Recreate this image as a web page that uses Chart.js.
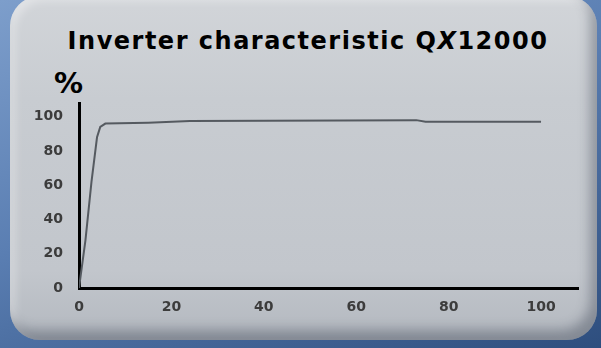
<!DOCTYPE html>
<html>
<head>
<meta charset="utf-8">
<script src="https://cdn.jsdelivr.net/npm/chart.js@4/dist/chart.umd.min.js"></script>
<style>
  html, body { margin: 0; padding: 0; }
  body {
    width: 601px; height: 348px; overflow: hidden; position: relative;
    background: linear-gradient(160deg, #7d9ecb 0%, #5a7eb2 45%, #2e4e7e 100%);
    font-family: "DejaVu Sans", Verdana, sans-serif;
  }
  #panel {
    position: absolute; left: 10px; top: -4px; width: 587px; height: 344px;
    border-radius: 30px;
    background: linear-gradient(180deg, #d2d5d9 0%, #c8ccd1 30%, #c2c6cc 80%, #b3b8bf 100%);
    box-shadow: inset -7px -10px 12px rgba(40,50,65,0.35), inset 5px 5px 8px rgba(255,255,255,0.35);
  }
  #title {
    position: absolute; left: 0; width: 616px; top: 27px; text-align: center;
    font-weight: bold; font-size: 24px; letter-spacing: 1.5px; color: #000; white-space: nowrap;
  }
  #unit {
    position: absolute; left: 54px; top: 66px; font-weight: bold; font-size: 29px; color: #000;
  }
  #wrap { position: absolute; left: 0; top: 0; width: 601px; height: 348px; }
</style>
</head>
<body>
<div id="panel"></div>
<div id="title">Inverter characteristic Q<i>X</i>12000</div>
<div id="unit">%</div>
<div id="wrap"><canvas id="chart"></canvas></div>
<script>
// load in % of rated power vs efficiency in %
const loadPct = [0, 1.4, 2.7, 3.9, 4.6, 5.7, 15, 24, 73, 75, 100];
const efficiency = [0, 28, 62, 88, 94, 96, 96.5, 97.5, 98, 97, 97];
const tickValues = [0, 20, 40, 60, 80, 100];

const tickFont = { family: 'DejaVu Sans', size: 14, weight: 'bold' };

function fixedTicks(scale) {
    scale.ticks = tickValues.map(v => ({ value: v }));
}

new Chart(document.getElementById('chart').getContext('2d'), {
    type: 'scatter',
    data: {
        datasets: [{
            data: loadPct.map((x, i) => ({ x: x, y: efficiency[i] })),
            showLine: true,
            borderColor: '#555a60',
            borderWidth: 2,
            pointRadius: 0,
            tension: 0
        }]
    },
    options: {
        responsive: true,
        maintainAspectRatio: false,
        animation: false,
        layout: { padding: { left: 29, top: 103, right: 23, bottom: 20 } },
        plugins: { legend: { display: false }, tooltip: { enabled: false } },
        scales: {
            x: {
                type: 'linear', min: 0, max: 108,
                afterBuildTicks: fixedTicks,
                afterFit: s => { s.height = 40; },
                grid: { display: false, drawTicks: false },
                border: { color: '#000', width: 3 },
                ticks: { font: tickFont, color: '#3c3c3c', padding: 11, maxRotation: 0 }
            },
            y: {
                type: 'linear', min: 0, max: 108,
                afterBuildTicks: fixedTicks,
                afterFit: s => { s.width = 50; },
                grid: { display: false, drawTicks: false },
                border: { color: '#000', width: 3 },
                ticks: { font: tickFont, color: '#3c3c3c', padding: 16 }
            }
        }
    }
});
</script>
</body>
</html>
